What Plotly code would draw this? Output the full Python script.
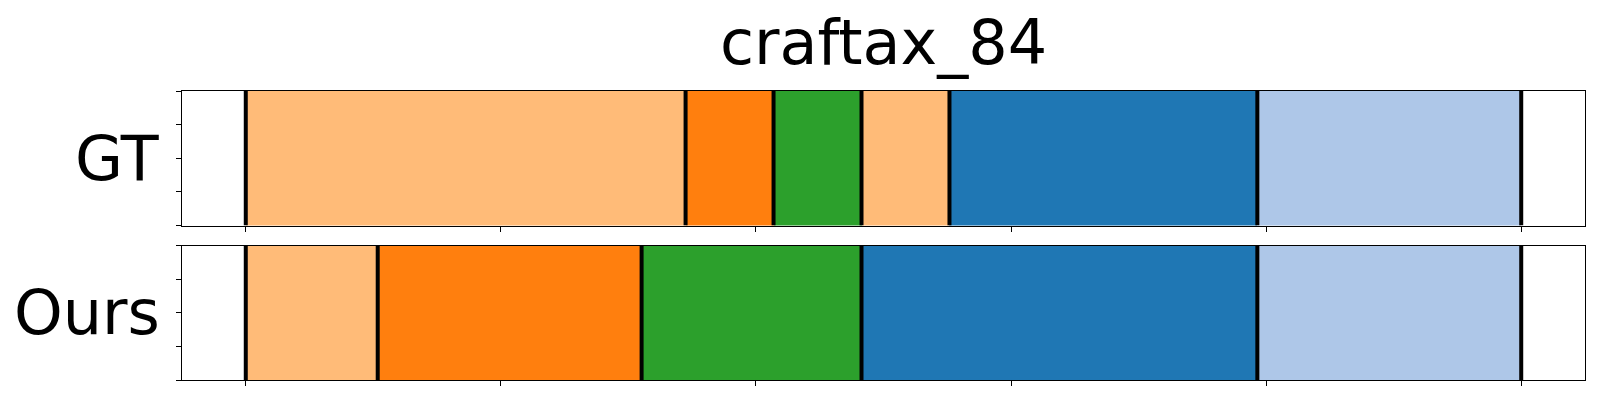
import plotly.graph_objects as go
from plotly.subplots import make_subplots

title_text = "craftax_84"
row_labels = ["GT", "Ours"]

# segment colours (tab20) and lengths in steps
gt_colors = ["#ffbb78", "#ff7f0e", "#2ca02c", "#ffbb78", "#1f77b4", "#aec7e8"]
gt_lengths = [10, 2, 2, 2, 7, 6]
ours_colors = ["#ffbb78", "#ff7f0e", "#2ca02c", "#1f77b4", "#aec7e8"]
ours_lengths = [3, 6, 5, 9, 6]

x_ticks = [0, 0.2, 0.4, 0.6, 0.8, 1.0]
y_ticks = [0, 0.25, 0.5, 0.75, 1.0]

FONT = "DejaVu Sans"
W, H = 1592, 392

fig = make_subplots(rows=2, cols=1, vertical_spacing=20 / (H - 83 - 20), shared_xaxes=False)

for r, (colors, lengths) in enumerate([(gt_colors, gt_lengths), (ours_colors, ours_lengths)], start=1):
    total = float(sum(lengths))
    start = 0.0
    bounds = [0.0]
    for c, L in zip(colors, lengths):
        w = L / total
        fig.add_trace(go.Bar(x=[w], base=[start], y=[0.5], width=[1.0], orientation="h",
                             marker=dict(color=c, line=dict(width=0)), showlegend=False,
                             hoverinfo="skip"), row=r, col=1)
        start += w
        bounds.append(start)
    xs, ys = [], []
    for b in bounds:
        xs += [b, b, None]
        ys += [0, 1, None]
    fig.add_trace(go.Scatter(x=xs, y=ys, mode="lines", line=dict(color="black", width=4),
                             showlegend=False, hoverinfo="skip"), row=r, col=1)

for r in (1, 2):
    fig.update_xaxes(range=[-0.05, 1.05], tickvals=x_ticks, showticklabels=False, ticks="outside",
                     ticklen=5, tickwidth=1, tickcolor="black", showline=True, linecolor="black",
                     linewidth=1.2, mirror=True, showgrid=False, zeroline=False, row=r, col=1)
    fig.update_yaxes(range=[0, 1], tickvals=y_ticks, showticklabels=False, ticks="outside",
                     ticklen=5, tickwidth=1, tickcolor="black", showline=True, linecolor="black",
                     linewidth=1.2, mirror=True, showgrid=False, zeroline=False, row=r, col=1)

for i, lab in enumerate(row_labels):
    yref = "y domain" if i == 0 else "y2 domain"
    fig.add_annotation(text=lab, xref="paper", x=0, xanchor="right", xshift=-20,
                       yref=yref, y=0.5, yanchor="middle", showarrow=False,
                       font=dict(family=FONT, size=62, color="black"))

fig.update_layout(
    width=W, height=H,
    barmode="overlay", bargap=0,
    paper_bgcolor="white", plot_bgcolor="white",
    margin=dict(l=174, r=15, t=83, b=20),
    title=dict(text=title_text, x=(174 + (W - 174 - 15) / 2) / W, xanchor="center",
               y=1 - 34 / H, yanchor="middle", yref="container",
               font=dict(family=FONT, size=62, color="black")),
    font=dict(family=FONT),
)

fig.write_html("out.html")
